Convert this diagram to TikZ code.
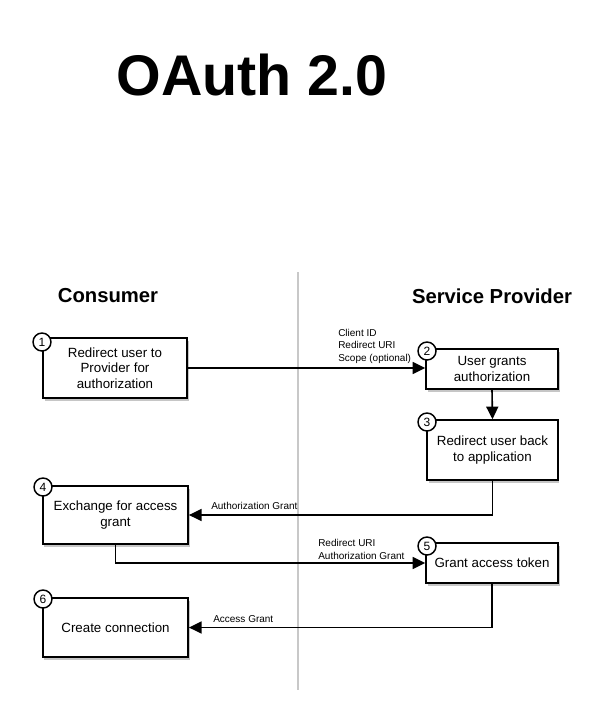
\documentclass[tikz,border=0pt]{standalone}
\usepackage{fontspec}
\setmainfont{Liberation Sans}
\usepackage{tikz}
\usetikzlibrary{positioning,shadows,arrows.meta}

\begin{document}
\begin{tikzpicture}[x=0.75pt,y=0.75pt,yscale=-1,xscale=1,
        flowbox/.style={draw, line width=1.1pt, fill=white, align=center, inner sep=0pt,
          font=\fontsize{10}{11.6}\selectfont,
          drop shadow={shadow xshift=1.2pt, shadow yshift=-2pt, opacity=0.45}},
        numdot/.style={circle, draw, line width=1.1pt, fill=white, inner sep=0pt,
          minimum size=13.5pt, font=\fontsize{9}{9}\selectfont},
        flowarrow/.style={line width=1.2pt, -{Triangle[length=9.5pt,width=9pt]}},
        msglabel/.style={align=left, inner sep=0pt, font=\fontsize{7.5}{9.6}\selectfont}]
        %set diagram size
        \useasboundingbox (0,0) rectangle (594,728);
        
        % Title
        \node (title) at (252,75) {\fontsize{43}{43}\selectfont\bfseries OAuth 2.0};
        
        % Column headers
        \node (consumer) at (108,296) {\fontsize{15.2}{15.2}\selectfont\bfseries Consumer};
        \node (provider) at (492,296) {\fontsize{15.2}{15.2}\selectfont\bfseries Service Provider};
        
        %Straight Lines [divider]
        \coordinate (divtop) at (298,272);
        \coordinate (divbot) at (298,690);
        \draw [color={rgb, 255:red, 200; green, 200; blue, 200 }, line width=1.5pt] (divtop) -- (divbot) ;
        
        %Shape: Rectangle [steps]
        \node [flowbox, minimum width=108pt, minimum height=45pt] (box1) at (115,368) {Redirect user to\\Provider for\\authorization};
        \node [flowbox, minimum width=99pt, minimum height=30pt] (box2) at (492,369) {User grants\\authorization};
        \node [flowbox, minimum width=98pt, minimum height=45pt] (box3) at (492.5,450) {Redirect user back\\to application};
        \node [flowbox, minimum width=109pt, minimum height=43.5pt] (box4) at (115.5,515) {Exchange for access\\grant};
        \node [flowbox, minimum width=99pt, minimum height=30pt] (box5) at (492,563) {Grant access token};
        \node [flowbox, minimum width=109pt, minimum height=44pt] (box6) at (115.5,627.5) {Create connection};
        
        %Flowchart: Connector [numbers]
        \node [numdot] (num1) at (42,342) {1};
        \node [numdot] (num2) at (427,351) {2};
        \node [numdot] (num3) at (427,422) {3};
        \node [numdot] (num4) at (43,487) {4};
        \node [numdot] (num5) at (427,546) {5};
        \node [numdot] (num6) at (43,599) {6};
        
        %Straight Lines [arrows]
        \draw [flowarrow] (box1.east) -- (box1.east -| box2.west) ;
        \draw [flowarrow] (box2.south) -- (box3.north) ;
        \draw [flowarrow] (box3.south) |- (box4.east) ;
        \draw [flowarrow] (box4.south) |- (box5.west) ;
        \draw [flowarrow] (box5.south) |- (box6.east) ;
        
        % Text Node
        \node [msglabel, anchor=south west] (msg1) at (338,364) {Client ID\\Redirect URI\\Scope (optional)};
        % Text Node
        \node [msglabel, anchor=south west] (msg2) at (211,510) {Authorization Grant};
        % Text Node
        \node [msglabel, anchor=south west] (msg3) at (318,560) {Redirect URI\\Authorization Grant};
        % Text Node
        \node [msglabel, anchor=south west] (msg4) at (213,623) {Access Grant};
        \end{tikzpicture}
\end{document}
